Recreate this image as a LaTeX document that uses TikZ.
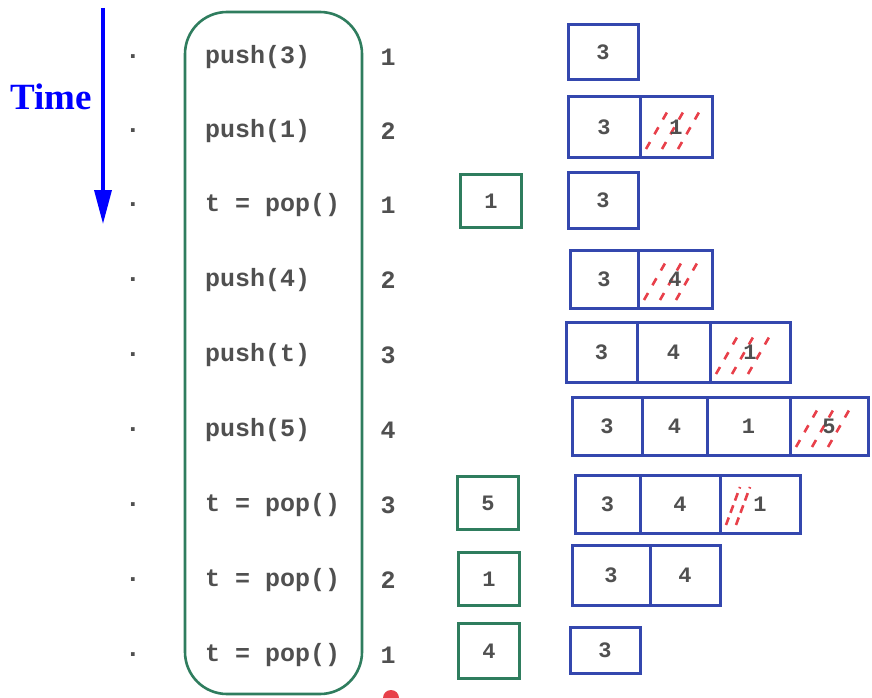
\documentclass[tikz,border=0pt]{standalone}
\usepackage{fontspec}
\setmonofont{Liberation Mono}
\newfontfamily\timefont{Liberation Serif}
\usetikzlibrary{arrows.meta,calc}
\definecolor{opgreen}{HTML}{2F7D5E}
\definecolor{stackblue}{HTML}{3447AE}
\definecolor{hatchred}{HTML}{E8404A}
\definecolor{inkgray}{HTML}{505050}
\tikzset{
  optext/.style={font=\ttfamily\bfseries\fontsize{25}{25}\selectfont, text=inkgray, inner sep=0pt},
  numtext/.style={font=\ttfamily\bfseries\fontsize{25}{25}\selectfont, text=inkgray, inner sep=0pt},
  dottext/.style={font=\ttfamily\bfseries\fontsize{26}{26}\selectfont, text=inkgray, inner sep=0pt},
  cell/.style={draw=stackblue, line width=3pt, rectangle, inner sep=0pt,
    font=\ttfamily\bfseries\fontsize{22}{22}\selectfont, text=inkgray},
  popbox/.style={draw=opgreen, line width=2.8pt, rectangle, inner sep=0pt,
    minimum width=61pt, minimum height=53pt,
    font=\ttfamily\bfseries\fontsize{22}{22}\selectfont, text=inkgray},
  newcell/.style={cell, path picture={
    \foreach \i in {6,22,38}
      \draw[hatchred, line width=2.6pt, dash pattern=on 8pt off 9pt]
        ($(path picture bounding box.south west)+(\i,-8)$) -- ++(24,-42);
  }},
}
\begin{document}
\begin{tikzpicture}[x=1pt,y=-1pt]
\useasboundingbox (0,0) rectangle (872,698);
\fill[white] (0,0) rectangle (872,698);

% time arrow
\node[font=\timefont\bfseries\fontsize{37}{37}\selectfont, text=blue, inner sep=0pt] (time) at (51,97) {Time};
\coordinate (tstart) at (103,8);
\coordinate (tend) at (103,224);
\draw[blue, line width=3.5pt, -{Triangle[width=17pt,length=34pt]}] (tstart) -- (tend);

% operations container
\node[draw=opgreen, line width=2.6pt, rounded corners=42pt, minimum width=177pt, minimum height=682pt, inner sep=0pt] (ops) at (273.5,353) {};

% rows
\foreach \y [count=\k] in {57,131,205,280,355,430,505,580,655}
  \node[dottext] (dot\k) at (133,\y) {.};

\node[optext, anchor=west] (op1) at (205,57) {push(3)};
\node[optext, anchor=west] (op2) at (205,131) {push(1)};
\node[optext, anchor=west] (op3) at (205,205) {t = pop()};
\node[optext, anchor=west] (op4) at (205,280) {push(4)};
\node[optext, anchor=west] (op5) at (205,355) {push(t)};
\node[optext, anchor=west] (op6) at (205,430) {push(5)};
\node[optext, anchor=west] (op7) at (205,505) {t = pop()};
\node[optext, anchor=west] (op8) at (205,580) {t = pop()};
\node[optext, anchor=west] (op9) at (205,655) {t = pop()};

\node[numtext] (n1) at (388,57) {1};
\node[numtext] (n2) at (388,131) {2};
\node[numtext] (n3) at (388,205) {1};
\node[numtext] (n4) at (388,280) {2};
\node[numtext] (n5) at (388,355) {3};
\node[numtext] (n6) at (388,430) {4};
\node[numtext] (n7) at (388,505) {3};
\node[numtext] (n8) at (388,580) {2};
\node[numtext] (n9) at (388,655) {1};

% popped values
\node[popbox] (p3) at (491,201) {1};
\node[popbox] (p7) at (488,503) {5};
\node[popbox, minimum width=61pt, minimum height=53pt] (p8) at (489,579) {1};
\node[popbox, minimum width=61pt, minimum height=55pt] (p9) at (489,651) {4};

% stacks
\node[cell, minimum width=70pt, minimum height=55pt] (s1a) at (603,52) {3};

\node[cell, minimum width=72pt, minimum height=60pt] (s2a) at (604,127) {3};
\node[newcell, minimum width=72pt, minimum height=60pt] (s2b) at (676,127) {1};

\node[cell, minimum width=70pt, minimum height=56pt] (s3a) at (603,200) {3};

\node[cell, minimum width=68pt, minimum height=58pt] (s4a) at (604,279) {3};
\node[newcell, minimum width=74pt, minimum height=58pt] (s4b) at (675,279) {4};

\node[cell, minimum width=71pt, minimum height=60pt] (s5a) at (601.5,352) {3};
\node[cell, minimum width=73pt, minimum height=60pt] (s5b) at (673.5,352) {4};
\node[newcell, minimum width=80pt, minimum height=60pt] (s5c) at (750,352) {1};

\node[cell, minimum width=70pt, minimum height=58pt] (s6a) at (607,426) {3};
\node[cell, minimum width=65pt, minimum height=58pt] (s6b) at (674.5,426) {4};
\node[cell, minimum width=83pt, minimum height=58pt] (s6c) at (748.5,426) {1};
\node[newcell, minimum width=78pt, minimum height=58pt] (s6d) at (829,426) {5};

\node[cell, minimum width=65pt, minimum height=58pt] (s7a) at (607.5,504) {3};
\node[cell, minimum width=80pt, minimum height=58pt] (s7b) at (680,504) {4};
\node[cell, minimum width=80pt, minimum height=58pt, path picture={
    \foreach \i in {6,16}
      \draw[hatchred, line width=2.6pt, dash pattern=on 8pt off 5pt]
        ($(path picture bounding box.south west)+(\i,-8)$) -- ++(14,-38);
  }] (s7c) at (760,504) {1};

\node[cell, minimum width=78pt, minimum height=60pt] (s8a) at (611,575) {3};
\node[cell, minimum width=70pt, minimum height=60pt] (s8b) at (685,575) {4};

\node[cell, minimum width=70pt, minimum height=46pt] (s9a) at (605,650) {3};

% red mark at the bottom
\fill[hatchred] (391,698) circle (8pt);
\end{tikzpicture}
\end{document}
